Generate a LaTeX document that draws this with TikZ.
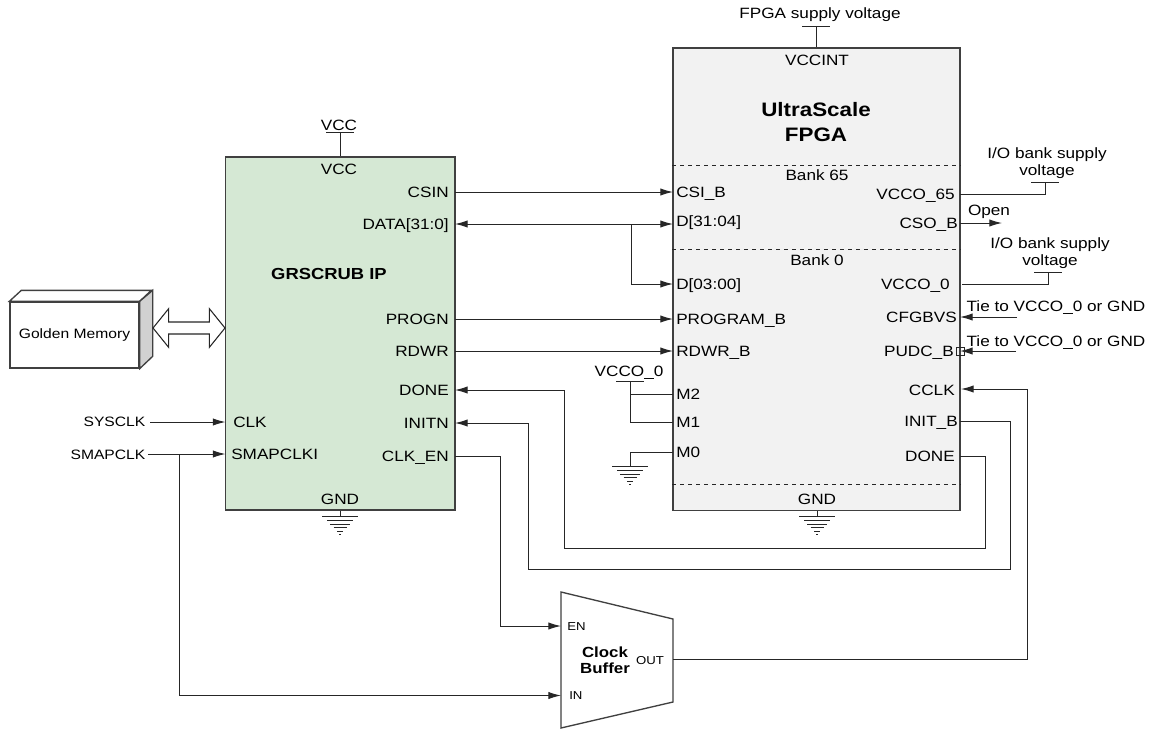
\documentclass[tikz,border=0pt]{standalone}
\usepackage{fontspec}
\setmainfont[FakeStretch=1.15]{Liberation Sans}
\usetikzlibrary{arrows.meta,calc,shapes.arrows}
\definecolor{ipgreen}{HTML}{D5E8D4}

\tikzset{
  wire/.style={line width=0.75pt,draw=black!85},
  sig/.style={wire,-{Latex[length=9.5pt,width=5.5pt]}},
  bisig/.style={wire,{Latex[length=9.5pt,width=5.5pt]}-{Latex[length=9.5pt,width=5.5pt]}},
  block/.style={draw=black!75,line width=1pt,inner sep=0pt},
  txt/.style={inner sep=0pt,text=black,font=\fontsize{11.2}{12.9}\selectfont},
  oneline/.style={txt,text height=8pt,text depth=0pt},
  pinL/.style={oneline,anchor=west},
  pinR/.style={oneline,anchor=east},
  title/.style={txt,align=center,font=\fontsize{12}{15}\selectfont\bfseries},
  small/.style={txt,font=\fontsize{8.6}{10}\selectfont},
  gnd/.pic={\foreach \y/\w in {0/18,4/13,8/10,11/6.5,15/3,18/1} {\draw[wire,line width=0.7pt] (-\w,\y) -- (\w,\y);}},
  rail/.pic={\draw[wire] (-14,0) -- (14,0);}
}

\begin{document}
\begin{tikzpicture}[x=0.75pt,y=-0.75pt]
\useasboundingbox (0,0) rectangle (1153,729);

% blocks
\node[block,fill=ipgreen,minimum width=172.1pt,minimum height=264.75pt] (grscrub) at (340.25,333.5) {};
\node[block,fill=black!5,minimum width=215.25pt,minimum height=346.9pt] (fpga) at (816.5,279.25) {};
\foreach \y in {165,249.5,484} {\draw[wire,dashed,line width=0.7pt] (fpga.west |- 0,\y) -- (fpga.east |- 0,\y);}

\node[title] (iptitle) at (329,274) {GRSCRUB IP};
\node[title,font=\fontsize{14.6}{18.6}\selectfont\bfseries] (fpgatitle) at (816,122) {UltraScale\\FPGA};
\node[oneline] (bank65) at (817,175) {Bank 65};
\node[oneline] (bank0) at (817,260) {Bank 0};
\node[oneline] (vccint) at (817,60) {VCCINT};
\node[oneline] (ipvcc) at (339,169) {VCC};
\node[oneline] (ipgnd) at (340,499) {GND};
\node[oneline] (fpgagnd) at (817,499) {GND};

% pins of the IP
\foreach \n/\y/\t in {csin/192/CSIN,data/224/DATA[31:0],progn/319/PROGN,rdwr/351/RDWR,done/390/DONE,initn/423/INITN,clken/456/CLK\_EN} {
  \coordinate (ip-\n) at (455,\y);
  \node[pinR] (ip-\n-lbl) at (449,\y) {\t};
}
\coordinate (ip-clk) at (225.5,422);
\coordinate (ip-smapclki) at (225.5,454);
\node[pinL] (ip-clk-lbl) at (233,422) {CLK};
\node[pinL] (ip-smapclki-lbl) at (231,454) {SMAPCLKI};

% pins of the FPGA
\foreach \n/\y/\t in {csib/192/CSI\_B,dhi/221/D[31:04],dlo/284/D[03:00],prog/319/PROGRAM\_B,rdwr/351/RDWR\_B,mtwo/394/M2,mone/422/M1,mzero/452/M0} {
  \coordinate (fp-\n) at (673,\y);
  \node[pinL] (fp-\n-lbl) at (676,\y) {\t};
}
\foreach \n/\y/\xx/\t in {vccosf/194/955/VCCO\_65,csob/223/958/CSO\_B,vccoz/284/950/VCCO\_0,cfgbvs/317/957/CFGBVS,pudc/351/954/PUDC\_B,cclk/390/955/CCLK,initb/421/958/INIT\_B,done/456/955/DONE} {
  \coordinate (fp-\n) at (960,\y);
  \node[pinR] (fp-\n-lbl) at (\xx,\y) {\t};
}
\node[draw=black!85,line width=0.7pt,minimum size=6pt,inner sep=0pt] (pudcpad) at (fp-pudc) {};

% golden memory
\node[block,fill=white,minimum width=96.75pt,minimum height=49.5pt,font=\fontsize{10.2}{12}\selectfont] (golden) at (74.5,335) {Golden Memory};
\draw[block,fill=white] (golden.north west) -- ++(12,-11) -- ++(130,0) -- ($(golden.north east)$) -- cycle;
\draw[block,fill=black!18] (golden.north east) -- ++(13,-11) -- ++(0,66) -- (golden.south east) -- cycle;
\node[draw=black!85,line width=0.8pt,fill=white,double arrow,inner sep=0pt,inner ysep=4.1pt,minimum width=27.75pt,minimum height=54pt,double arrow head extend=10pt,double arrow tip angle=102] (membus) at (189,328) {};

% clock buffer
\draw[block,fill=white] (561,592) coordinate (cb-a) -- (673,619) -- (673,702) -- (561,728) coordinate (cb-d) -- cycle;
\coordinate (cb-en) at (561,626);
\coordinate (cb-in) at (561,695.5);
\coordinate (cb-out) at (673,659);
\node[small,anchor=west] (cb-en-lbl) at (567,627) {EN};
\node[small,anchor=west] (cb-in-lbl) at (569,696) {IN};
\node[small] (cb-out-lbl) at (650,661) {OUT};
\node[title,font=\fontsize{11}{12}\selectfont\bfseries] (cb-title) at (605,660) {Clock\\Buffer};

% outside labels
\node[oneline] (vcclbl) at (339,125) {VCC};
\node[txt] (supplylbl) at (820,15) {FPGA supply voltage};
\node[txt,align=center] (bank65lbl) at (1047,163.5) {I/O bank supply\\voltage};
\node[txt,align=center] (bank0lbl) at (1050,253.5) {I/O bank supply\\voltage};
\node[oneline] (openlbl) at (989,210) {Open};
\node[oneline] (tielbla) at (1056,306) {Tie to VCCO\_0 or GND};
\node[oneline] (tielblb) at (1056,341) {Tie to VCCO\_0 or GND};
\node[oneline] (vccomlbl) at (629,371) {VCCO\_0};
\node[pinR,outer sep=2pt,font=\fontsize{10.2}{12}\selectfont] (sysclk) at (148,421) {SYSCLK};
\node[pinR,outer sep=2pt,font=\fontsize{10.2}{12}\selectfont] (smapclk) at (148,454) {SMAPCLK};
\coordinate (sysclkend) at (150,422);

% supply rails
\coordinate (railvcc) at (340,132);
\coordinate (railint) at (816,26.5);
\coordinate (railsf) at (1045,182);
\coordinate (railz) at (1048,272.5);
\coordinate (railm) at (630,381);
\foreach \r in {railvcc,railint,railsf,railz,railm} {\pic at (\r) {rail};}
\draw[wire] (railvcc) -- (railvcc |- grscrub.north);
\draw[wire] (railint) -- (railint |- fpga.north);
\draw[wire] (fp-vccosf) -| (railsf);
\draw[wire] ($(fp-vccoz)+(2,0)$) -| (railz);
\draw[wire] (railm) |- (fp-mone);
\draw[wire] (railm |- fp-mtwo) -- (fp-mtwo);

% grounds
\coordinate (gndip) at (340,516);
\coordinate (gndfp) at (817,516);
\coordinate (gndm) at (630,466);
\foreach \g in {gndip,gndfp,gndm} {\pic at (\g) {gnd};}
\draw[wire] (gndip |- grscrub.south) -- (gndip);
\draw[wire] (gndfp |- fpga.south) -- (gndfp);
\draw[wire] (fp-mzero) -| (gndm);

% connections
\path (ip-csin) edge[sig] (fp-csib)
(ip-progn) edge[sig] (fp-prog)
(ip-rdwr) edge[sig] (fp-rdwr)
(sysclkend) edge[sig] (ip-clk)
(smapclk) edge[sig] (ip-smapclki);
\draw[bisig] (ip-data) -- (fp-dhi |- ip-data);
\draw[sig] (631,224) |- (fp-dlo);
\draw[sig] (fp-csob) -- ++(42,0);
\coordinate (tiea) at (1017,317);
\coordinate (tieb) at (1016,351);
\draw[sig] (tiea) -- (fp-cfgbvs);
\draw[sig] (tieb) -- (pudcpad.center);
\draw[sig] (fp-done) -- (985,456) -- (985,548) -- (564,548) -- (564,390) -- (ip-done);
\draw[sig] (fp-initb) -- (1010,421) -- (1010,569) -- (528,569) -- (528,423) -- (ip-initn);
\draw[sig] (ip-clken) -| (500,626) -- (cb-en);
\draw[sig] (179,454) |- (cb-in);
\draw[sig] (cb-out) -| (1027,389) -- (961,389);
\end{tikzpicture}
\end{document}
